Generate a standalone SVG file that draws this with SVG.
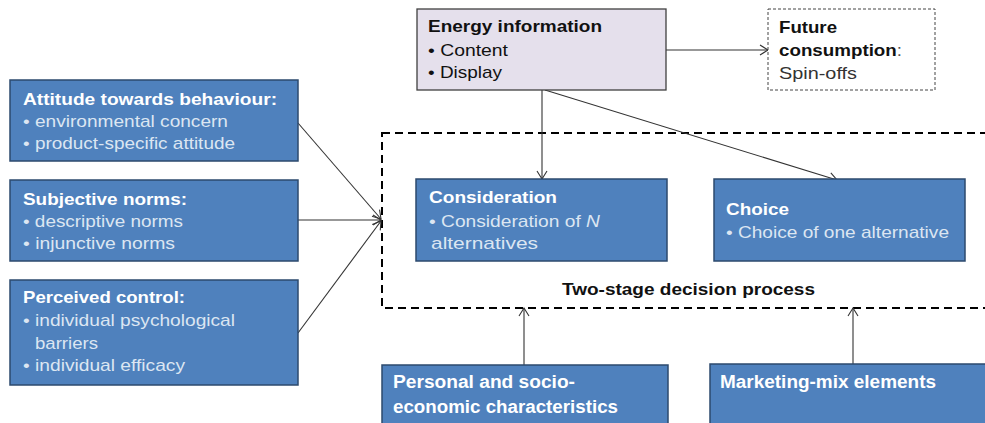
<svg xmlns="http://www.w3.org/2000/svg" width="985" height="423" viewBox="0 0 985 423">
<defs>
<marker id="arr" markerUnits="userSpaceOnUse" markerWidth="12" markerHeight="12" viewBox="0 0 12 12" refX="10" refY="6" orient="auto">
<path d="M2,1 L10,6 L2,11" fill="none" stroke="#333" stroke-width="1.1"/>
</marker>
<style>
.bx{fill:#4f81bd;stroke:#2c4a6e;stroke-width:1.5}
.ttl{font-family:"Liberation Sans",Arial,sans-serif;font-weight:bold;font-size:17px;fill:#ffffff}
.bul{font-family:"Liberation Sans",Arial,sans-serif;font-size:17px;fill:#dce6f2}
.dk{font-family:"Liberation Sans",Arial,sans-serif;font-size:17px;fill:#111}
.dkb{font-family:"Liberation Sans",Arial,sans-serif;font-size:17px;font-weight:bold;fill:#111}
.con{fill:none;stroke:#333;stroke-width:1.1}
</style>
</defs>
<rect width="985" height="423" fill="#ffffff"/>

<g id="process-frame">
<rect x="382" y="133" width="620" height="175" fill="none" stroke="#000" stroke-width="2" stroke-dasharray="8,5"/>
<text x="562" y="295" class="dkb" textLength="253" lengthAdjust="spacingAndGlyphs">Two-stage decision process</text>
</g>

<g id="connectors">
<line class="con" x1="298" y1="123" x2="381" y2="219" marker-end="url(#arr)"/>
<line class="con" x1="298" y1="220" x2="381" y2="220" marker-end="url(#arr)"/>
<line class="con" x1="298" y1="333" x2="381" y2="221" marker-end="url(#arr)"/>
<line class="con" x1="666" y1="50" x2="768" y2="50" marker-end="url(#arr)"/>
<line class="con" x1="542" y1="90" x2="542" y2="179" marker-end="url(#arr)"/>
<line class="con" x1="545" y1="90" x2="837" y2="180" marker-end="url(#arr)"/>
<line class="con" x1="524" y1="365" x2="524" y2="308" marker-end="url(#arr)"/>
<line class="con" x1="853" y1="364" x2="853" y2="308" marker-end="url(#arr)"/>
</g>

<g id="attitude">
<rect class="bx" x="10" y="80" width="288" height="81"/>
<text x="23" y="105" class="ttl" textLength="254" lengthAdjust="spacingAndGlyphs">Attitude towards behaviour:</text>
<text x="23" y="127" class="bul" textLength="205" lengthAdjust="spacingAndGlyphs">• environmental concern</text>
<text x="23" y="149" class="bul" textLength="212" lengthAdjust="spacingAndGlyphs">• product-specific attitude</text>
</g>

<g id="norms">
<rect class="bx" x="10" y="180" width="288" height="81"/>
<text x="23" y="205" class="ttl" textLength="164" lengthAdjust="spacingAndGlyphs">Subjective norms:</text>
<text x="23" y="227" class="bul" textLength="160" lengthAdjust="spacingAndGlyphs">• descriptive norms</text>
<text x="23" y="249" class="bul" textLength="152" lengthAdjust="spacingAndGlyphs">• injunctive norms</text>
</g>

<g id="control">
<rect class="bx" x="10" y="280" width="288" height="105"/>
<text x="23" y="303" class="ttl" textLength="162" lengthAdjust="spacingAndGlyphs">Perceived control:</text>
<text x="23" y="326" class="bul" textLength="212" lengthAdjust="spacingAndGlyphs">• individual psychological</text>
<text x="35" y="349" class="bul" textLength="63" lengthAdjust="spacingAndGlyphs">barriers</text>
<text x="23" y="371" class="bul" textLength="162" lengthAdjust="spacingAndGlyphs">• individual efficacy</text>
</g>

<g id="energy">
<rect x="417" y="9" width="249" height="81" fill="#e5e0ec" stroke="#404040" stroke-width="1.3"/>
<text x="428" y="32" class="dkb" textLength="174" lengthAdjust="spacingAndGlyphs">Energy information</text>
<text x="428" y="56" class="dk" textLength="80" lengthAdjust="spacingAndGlyphs">• Content</text>
<text x="428" y="78" class="dk" textLength="74" lengthAdjust="spacingAndGlyphs">• Display</text>
</g>

<g id="future">
<rect x="768" y="9" width="167" height="81" fill="#fff" stroke="#444" stroke-width="1" stroke-dasharray="3,2"/>
<text x="779" y="33" class="dkb" textLength="58" lengthAdjust="spacingAndGlyphs">Future</text>
<text x="779" y="56" class="dkb" textLength="123" lengthAdjust="spacingAndGlyphs">consumption<tspan font-weight="normal" fill="#555">:</tspan></text>
<text x="779" y="79" class="dk" fill="#333" style="fill:#333" textLength="78" lengthAdjust="spacingAndGlyphs">Spin-offs</text>
</g>

<g id="consideration">
<rect class="bx" x="416" y="179" width="251" height="82"/>
<text x="429" y="203" class="ttl" textLength="128" lengthAdjust="spacingAndGlyphs">Consideration</text>
<text x="429" y="227" class="bul" textLength="171" lengthAdjust="spacingAndGlyphs">• Consideration of <tspan font-style="italic">N</tspan></text>
<text x="431" y="249" class="bul" textLength="107" lengthAdjust="spacingAndGlyphs">alternatives</text>
</g>

<g id="choice">
<rect class="bx" x="714" y="179" width="251" height="82"/>
<text x="726" y="215" class="ttl" textLength="63" lengthAdjust="spacingAndGlyphs">Choice</text>
<text x="726" y="238" class="bul" textLength="223" lengthAdjust="spacingAndGlyphs">• Choice of one alternative</text>
</g>

<g id="personal">
<rect class="bx" x="382" y="365" width="286" height="70"/>
<text x="393" y="388" class="ttl" style="font-size:18px" textLength="182" lengthAdjust="spacingAndGlyphs">Personal and socio-</text>
<text x="393" y="413" class="ttl" style="font-size:18px" textLength="225" lengthAdjust="spacingAndGlyphs">economic characteristics</text>
</g>

<g id="marketing">
<rect class="bx" x="710" y="364" width="290" height="70"/>
<text x="720" y="388" class="ttl" style="font-size:18px" textLength="216" lengthAdjust="spacingAndGlyphs">Marketing-mix elements</text>
</g>
</svg>
